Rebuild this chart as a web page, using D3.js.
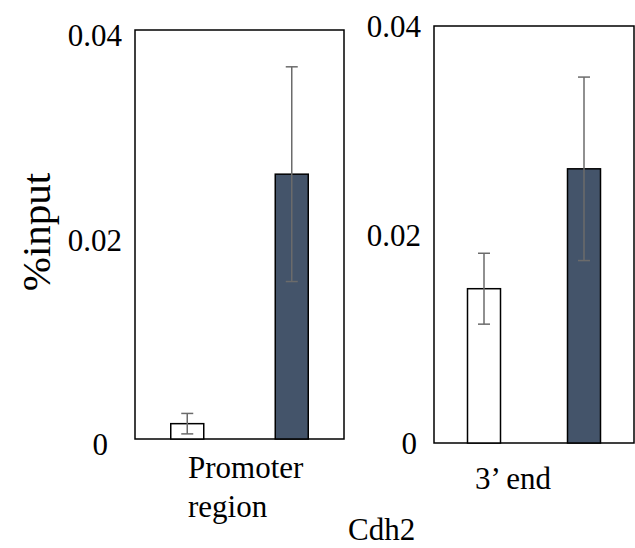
<!DOCTYPE html>
<html>
<head>
<meta charset="utf-8">
<script src="https://cdn.jsdelivr.net/npm/d3@7"></script>
<style>
  html, body { margin: 0; padding: 0; background: #fff; }
  svg { display: block; }
  text { font-family: "Liberation Serif", "Times New Roman", serif; fill: #000; }
</style>
</head>
<body>
<svg id="chart" width="635" height="548"></svg>
<script>
// Cdh2 ChIP: % input at two regions, control vs. IP
const regions = ["Promoter region", "3\u2019 end"];
const groups = ["control", "ip"];
const controlValues = [0.0015, 0.0148];
const controlErrors = [0.0010, 0.0034];
const ipValues = [0.0259, 0.0263];
const ipErrors = [0.0105, 0.0088];
const yTicks = [0, 0.02, 0.04];
const geneLabel = "Cdh2";
const yLabel = "%input";

const svg = d3.select("#chart");
const fills = { control: "#ffffff", ip: "#44546a" };

// one framed panel per region
const panels = [
  { left: 135, right: 344, top: 30, bottom: 439, tickDy: 5, zeroDx: -14,
    label: ["Promoter", "region"], labelX: 188, labelY: 478 },
  { left: 434, right: 634, top: 26, bottom: 443, tickDy: 0, zeroDx: -4,
    label: ["3\u2019 end"], labelX: 475, labelY: 489 }
];

panels.forEach((p, i) => {
  const y = d3.scaleLinear().domain([0, 0.04]).range([p.bottom, p.top]);
  const x = d3.scalePoint().domain(groups).range([p.left, p.right]).padding(0.5);
  const barW = 33;

  const rows = [
    { g: "control", v: controlValues[i], e: controlErrors[i] },
    { g: "ip", v: ipValues[i], e: ipErrors[i] }
  ];

  const g = svg.append("g");

  // frame
  g.append("rect")
    .attr("x", p.left).attr("y", p.top)
    .attr("width", p.right - p.left).attr("height", p.bottom - p.top)
    .attr("fill", "none").attr("stroke", "#000").attr("stroke-width", 1.5);

  // bars
  g.selectAll("rect.bar").data(rows).join("rect")
    .attr("class", "bar")
    .attr("x", d => x(d.g) - barW / 2)
    .attr("y", d => y(d.v))
    .attr("width", barW)
    .attr("height", d => y(0) - y(d.v))
    .attr("fill", d => fills[d.g])
    .attr("stroke", "#000").attr("stroke-width", 1.5);

  // error bars
  const eb = g.selectAll("g.err").data(rows).join("g").attr("class", "err")
    .attr("stroke", "#6b6b6b").attr("stroke-width", 1.5);
  eb.append("line")
    .attr("x1", d => x(d.g)).attr("x2", d => x(d.g))
    .attr("y1", d => y(d.v + d.e)).attr("y2", d => y(d.v - d.e));
  eb.append("line")
    .attr("x1", d => x(d.g) - 6).attr("x2", d => x(d.g) + 6)
    .attr("y1", d => y(d.v + d.e)).attr("y2", d => y(d.v + d.e));
  eb.append("line")
    .attr("x1", d => x(d.g) - 6).attr("x2", d => x(d.g) + 6)
    .attr("y1", d => y(d.v - d.e)).attr("y2", d => y(d.v - d.e));

  // y axis tick labels
  const axis = d3.axisLeft(y).tickValues(yTicks).tickSize(0).tickPadding(13)
    .tickFormat(d => d === 0 ? "0" : d3.format(".2f")(d));
  const ag = g.append("g").attr("transform", `translate(${p.left},0)`).call(axis);
  ag.select(".domain").remove();
  ag.selectAll("text")
    .style("font-family", "'Liberation Serif', 'Times New Roman', serif")
    .style("font-size", "31px")
    .attr("fill", "#000")
    .attr("dy", `calc(0.32em + ${p.tickDy}px)`)
    .attr("dx", d => d === 0 ? p.zeroDx : 0);
  ag.selectAll("text").attr("dy", null)
    .attr("y", p.tickDy).attr("dominant-baseline", "central");

  // region label
  const t = g.append("text")
    .attr("x", p.labelX).attr("y", p.labelY)
    .style("font-size", "31px");
  p.label.forEach((line, k) => {
    t.append("tspan").attr("x", p.labelX).attr("dy", k === 0 ? 0 : 39).text(line);
  });
});

// gene name
svg.append("text")
  .attr("x", 348).attr("y", 540)
  .style("font-size", "31px")
  .text(geneLabel);

// y axis title
svg.append("text")
  .attr("transform", "translate(50,232) rotate(-90)")
  .attr("text-anchor", "middle")
  .style("font-size", "41px")
  .text(yLabel);
</script>
</body>
</html>
